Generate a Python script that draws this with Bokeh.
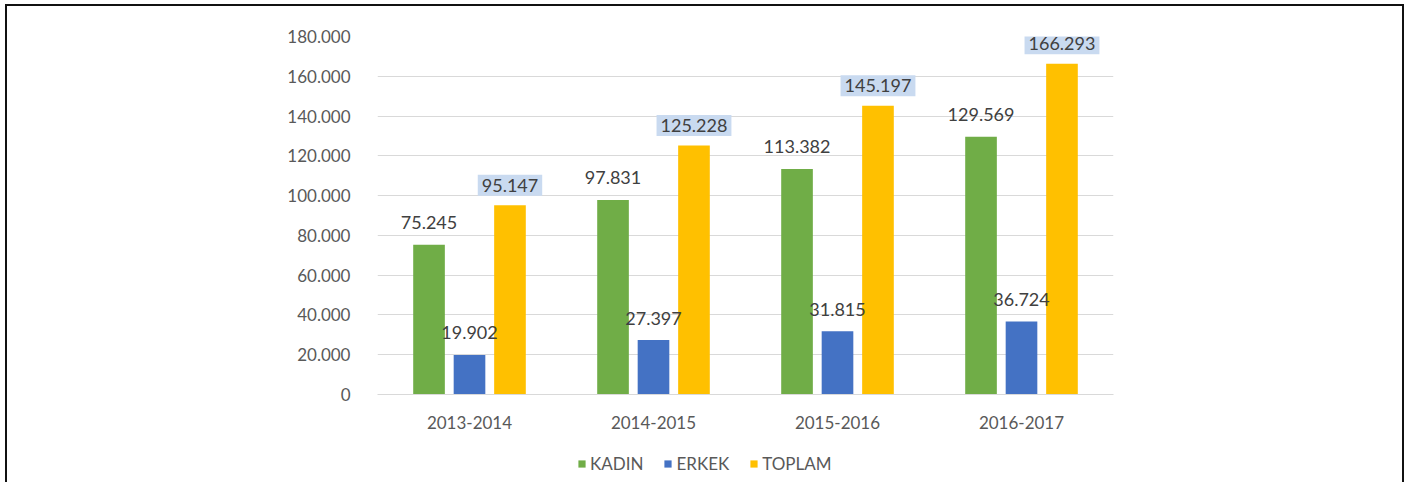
from bokeh.plotting import figure
from bokeh.layouts import column
from bokeh.models import (ColumnDataSource, Range1d, FixedTicker, Label, LabelSet,
                          Legend, LegendItem)
from bokeh.core.properties import value
from bokeh.embed import file_html
from bokeh.resources import INLINE

categories = ["2013-2014", "2014-2015", "2015-2016", "2016-2017"]
kadin = [75245, 97831, 113382, 129569]
erkek = [19902, 27397, 31815, 36724]
toplam = [95147, 125228, 145197, 166293]
series_names = ["KADIN", "ERKEK", "TOPLAM"]
y_ticks = [0, 20000, 40000, 60000, 80000, 100000, 120000, 140000, 160000, 180000]

colors = ["#70ad47", "#4472c4", "#ffc000"]
offsets = [-0.22, 0.0, 0.22]
FONT = "Lato"


def fmt(v):
    return f"{v:,}".replace(",", ".")


W, H = 1395, 440
LEFT, TOP, FW, FH = 370, 30, 736, 358
p = figure(width=W, height=H, output_backend="svg", toolbar_location=None,
           x_range=Range1d(0, len(categories)), y_range=Range1d(0, 180000),
           min_border_left=LEFT, min_border_right=W - LEFT - FW,
           min_border_top=TOP, min_border_bottom=H - TOP - FH)
p.outline_line_color = None
p.xgrid.grid_line_color = None
p.ygrid.grid_line_color = "#d9d9d9"
p.ygrid.grid_line_width = 1

p.yaxis.ticker = FixedTicker(ticks=y_ticks)
p.yaxis.major_label_overrides = {t: fmt(t) for t in y_ticks}
p.yaxis.axis_line_color = None
p.yaxis.major_tick_line_color = None
p.yaxis.minor_tick_line_color = None
p.yaxis.major_label_standoff = 21
p.yaxis.major_label_text_font = FONT
p.yaxis.major_label_text_font_size = "17px"
p.yaxis.major_label_text_color = "#595959"

xt = [i + 0.5 for i in range(len(categories))]
p.xaxis.ticker = FixedTicker(ticks=xt)
p.xaxis.major_label_overrides = {x: c for x, c in zip(xt, categories)}
p.xaxis.axis_line_color = "#d9d9d9"
p.xaxis.major_tick_line_color = None
p.xaxis.minor_tick_line_color = None
p.xaxis.major_label_standoff = 15
p.xaxis.major_label_text_font = FONT
p.xaxis.major_label_text_font_size = "17px"
p.xaxis.major_label_text_color = "#595959"

# legend strip below the chart (its frame lines up with the chart's frame)
p2 = figure(width=W, height=36, output_backend="svg", toolbar_location=None,
            x_range=Range1d(0, 1), y_range=Range1d(0, 1),
            min_border=0, min_border_left=0, min_border_right=0,
            min_border_top=0, min_border_bottom=0)
p2.axis.visible = False
p2.grid.visible = False
p2.outline_line_color = None

items = []
for k, (vals, name) in enumerate(zip([kadin, erkek, toplam], series_names)):
    xs = [i + 0.5 + offsets[k] for i in range(len(categories))]
    src = ColumnDataSource(dict(x=xs, top=vals, label=[fmt(v) for v in vals]))
    p.vbar(x="x", top="top", width=0.172, bottom=0, source=src,
           fill_color=colors[k], line_color=None)
    # off-screen proxy renderer used only to supply the legend swatch
    r2 = p2.vbar(x=[-10], top=[0], width=0.1, fill_color=colors[k],
                 line_color=None)
    items.append(LegendItem(label=name, renderers=[r2]))
    if k < 2:
        p.add_layout(LabelSet(x="x", y="top", text="label", source=src,
                              y_offset=22, text_align="center",
                              text_baseline="middle", text_font=value(FONT),
                              text_font_size=value("18px"),
                              text_color="#404040"))
    else:
        for x, v in zip(xs, vals):
            p.add_layout(Label(x=x, y=v, text=fmt(v), y_offset=20,
                               text_align="center", text_baseline="middle",
                               text_font=FONT, text_font_size="18px",
                               text_color="#404040",
                               background_fill_color="#c9daf0",
                               padding=4))

legend = Legend(items=items, orientation="horizontal", location=(200, 8),
                glyph_width=9, glyph_height=9, label_text_font=FONT,
                label_text_font_size="17px", label_text_color="#595959",
                label_standoff=4, spacing=20, padding=0, margin=0,
                border_line_color=None, background_fill_alpha=0)
p2.add_layout(legend, "center")

layout = column(p, p2, spacing=0)
layout.styles = {"border-top": "2px solid #111", "border-left": "2px solid #111",
                 "border-right": "2px solid #111", "margin-left": "5px",
                 "margin-top": "4px"}

open("out.html", "w").write(file_html(layout, INLINE))
